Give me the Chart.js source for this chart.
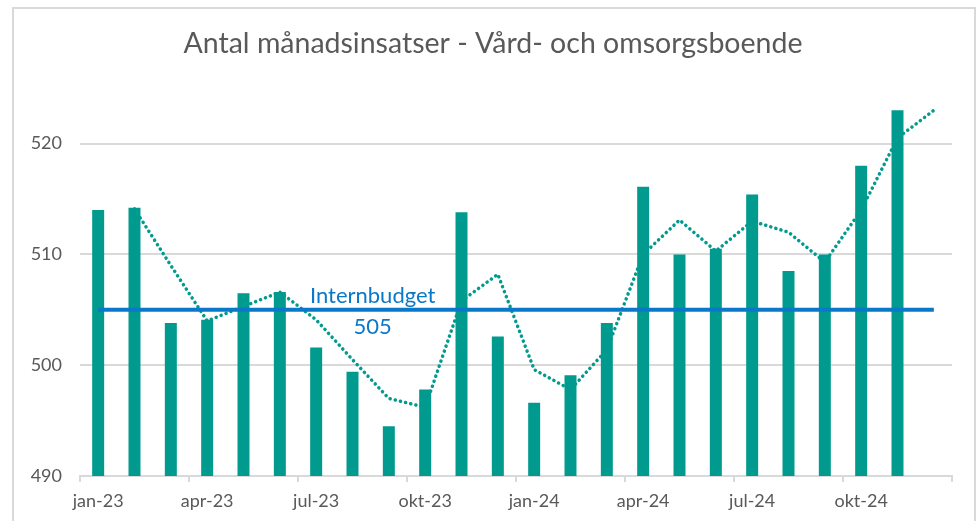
<!DOCTYPE html>
<html>
<head>
<meta charset="utf-8">
<script src="https://cdn.jsdelivr.net/npm/chart.js@4"></script>
<style>
    body { margin: 0; background: #fff; }
    canvas { position: absolute; left: 0; top: 0; }
    #frame {
        position: absolute; left: 12px; top: 7px;
        width: 960px; height: 540px;
        border: 2px solid #d9d9d9; border-bottom: none;
    }
</style>
</head>
<body>
<canvas id="myChart" width="978" height="521"></canvas>
<div id="frame"></div>
<script>
// Data
const months = ['jan-23', 'feb-23', 'mar-23', 'apr-23', 'maj-23', 'jun-23', 'jul-23', 'aug-23', 'sep-23', 'okt-23', 'nov-23', 'dec-23',
                'jan-24', 'feb-24', 'mar-24', 'apr-24', 'maj-24', 'jun-24', 'jul-24', 'aug-24', 'sep-24', 'okt-24', 'nov-24', 'dec-24'];
const insatser = [514.0, 514.2, 503.8, 504.1, 506.5, 506.6, 501.6, 499.4, 494.5, 497.8, 513.8, 502.6,
                  496.6, 499.1, 503.8, 516.1, 510.0, 510.5, 515.4, 508.5, 510.0, 518.0, 523.0, null];
// dotted trend (moving average)
const trend = [null, 514.1, 509.0, 504.0, 505.3, 506.6, 504.1, 500.5, 497.0, 496.2, 505.8, 508.2,
               499.6, 497.8, 501.4, 510.0, 513.1, 510.3, 513.0, 512.0, 509.3, 514.0, 520.5, 523.0];
const budget = [505, 505, 505, 505, 505, 505, 505, 505, 505, 505, 505, 505,
                505, 505, 505, 505, 505, 505, 505, 505, 505, 505, 505, 505];
const budgetLabel = ['Internbudget', '505'];
const yTicks = [490, 500, 510, 520];
const title = 'Antal månadsinsatser - Vård- och omsorgsboende';

const TEAL = '#009a8e';
const BLUE = '#0a78c8';
const GRID = '#d9d9d9';
const TEXT = '#595959';
const FONT = 'Lato, "Open Sans", sans-serif';

// Title + budget label, drawn by hand
const extras = {
    id: 'extras',
    afterDraw(chart) {
        const c = chart.ctx;
        const x = chart.scales.x;
        const y = chart.scales.y;
        c.save();
        c.fillStyle = TEXT;
        c.font = '28.5px ' + FONT;
        c.textAlign = 'center';
        c.textBaseline = 'alphabetic';
        c.fillText(title, 493, 53);

        const lx = x.getPixelForValue(7.5) + 2;
        const ly = y.getPixelForValue(budget[0]);
        c.fillStyle = BLUE;
        c.font = '22px ' + FONT;
        c.fillText(budgetLabel[0], lx, ly - 7);
        c.fillText(budgetLabel[1], lx, ly + 24);
        c.restore();
    }
};

new Chart(document.getElementById('myChart').getContext('2d'), {
    data: {
        labels: months,
        datasets: [{
            type: 'line',
            label: 'Internbudget',
            data: budget,
            borderColor: BLUE,
            borderWidth: 4,
            pointRadius: 0,
            order: 0
        }, {
            type: 'bar',
            label: 'Antal',
            data: insatser,
            backgroundColor: TEAL,
            barPercentage: 0.33,
            categoryPercentage: 1,
            order: 1
        }, {
            type: 'line',
            label: 'Trend',
            data: trend,
            borderColor: TEAL,
            borderWidth: 3.5,
            borderDash: [0.1, 5.2],
            borderCapStyle: 'round',
            pointRadius: 0,
            spanGaps: false,
            order: 2
        }]
    },
    options: {
        responsive: false,
        animation: false,
        devicePixelRatio: 1,
        layout: { padding: { top: 66, right: 26, bottom: 0, left: 0 } },
        plugins: {
            legend: { display: false },
            tooltip: { enabled: false },
            title: { display: false }
        },
        scales: {
            x: {
                offset: true,
                grid: {
                    offset: true,
                    drawOnChartArea: false,
                    tickLength: 6,
                    lineWidth: 2,
                    color: (ctx) => (ctx.index === undefined || ctx.index % 3 === 0) ? GRID : 'rgba(0,0,0,0)'
                },
                border: { display: true, color: GRID, width: 2 },
                ticks: {
                    autoSkip: false,
                    maxRotation: 0,
                    padding: 8,
                    color: TEXT,
                    font: { family: FONT, size: 18 },
                    callback: (val, i) => i % 3 === 0 ? months[i] : ''
                },
                afterFit: (scale) => { scale.height = 45; }
            },
            y: {
                min: 490,
                max: 527,
                grid: { color: GRID, lineWidth: 2, drawTicks: false },
                border: { display: false },
                ticks: {
                    padding: 18,
                    color: TEXT,
                    font: { family: FONT, size: 18 }
                },
                afterBuildTicks: (scale) => { scale.ticks = yTicks.map(v => ({ value: v })); },
                afterFit: (scale) => { scale.width = 80; }
            }
        }
    },
    plugins: [extras]
});
</script>
</body>
</html>
